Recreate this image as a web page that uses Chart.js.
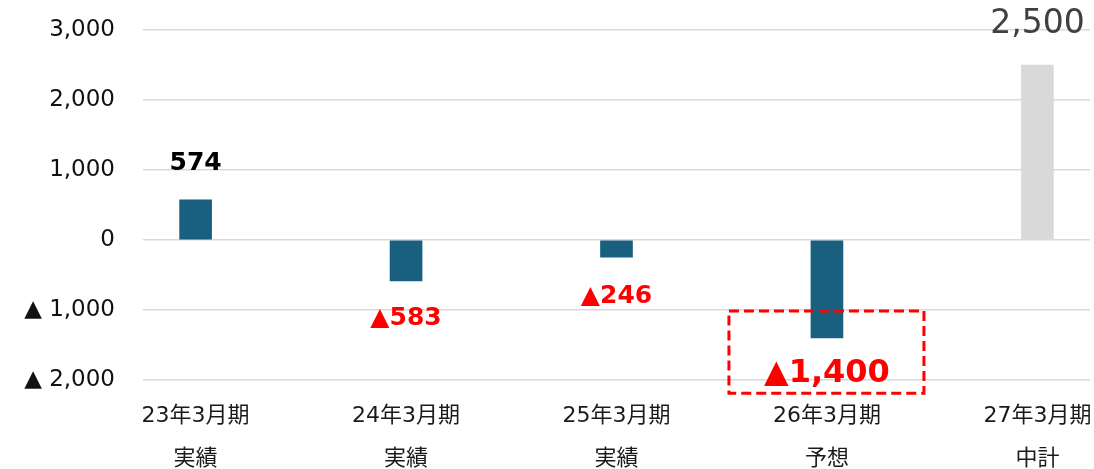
<!DOCTYPE html>
<html>
<head>
<meta charset="utf-8">
<script src="https://cdn.jsdelivr.net/npm/chart.js@4"></script>
<style>
  body { margin: 0; background: #fff; }
  canvas { display: block; }
</style>
</head>
<body>
<canvas id="chart" width="1094" height="469"></canvas>
<script>
const periods = ["23年3月期", "24年3月期", "25年3月期", "26年3月期", "27年3月期"];
const kinds = ["実績", "実績", "実績", "予想", "中計"];
const values = [574, -583, -246, -1400, 2500];
const barColors = ["#185F80", "#185F80", "#185F80", "#185F80", "#D9D9D9"];
const yTicks = [-2000, -1000, 0, 1000, 2000, 3000];

const font = "'DejaVu Sans', 'Noto Sans CJK JP', sans-serif";

function fmt(v) {
  return Math.abs(v).toLocaleString("en-US");
}

// look of the value labels, one per bar
const labelStyles = [
  { weight: "bold", size: 25, color: "#000000", gap: 30 },
  { weight: "bold", size: 25, color: "#FF0000", gap: 44 },
  { weight: "bold", size: 25, color: "#FF0000", gap: 46 },
  { weight: "bold", size: 32, color: "#FF0000", gap: 44 },
  { weight: "normal", size: 33, color: "#404040", gap: 32 },
];

const valueLabels = {
  id: "valueLabels",
  afterDatasetsDraw(chart) {
    const ctx = chart.ctx;
    const meta = chart.getDatasetMeta(0);
    ctx.save();
    ctx.textAlign = "center";
    ctx.textBaseline = "alphabetic";
    meta.data.forEach((bar, i) => {
      const v = values[i];
      const s = labelStyles[i];
      const text = v < 0 ? "▲" + fmt(v) : fmt(v);
      ctx.font = s.weight + " " + s.size + "px " + font;
      ctx.fillStyle = s.color;
      const y = v < 0 ? bar.y + s.gap : bar.y - s.gap;
      ctx.fillText(text, bar.x, y);
    });

    // dashed box round the forecast value
    const bar = meta.data[3];
    const yScale = chart.scales.y;
    const top = yScale.getPixelForValue(-1000) + 1;
    const bottom = yScale.getPixelForValue(-2190);
    ctx.strokeStyle = "#FF0000";
    ctx.lineWidth = 3;
    ctx.setLineDash([10, 5]);
    ctx.strokeRect(bar.x - 98, top, 195, bottom - top);
    ctx.restore();
  },
};

new Chart(document.getElementById("chart"), {
  type: "bar",
  data: {
    datasets: [
      {
        data: values.map((v, i) => ({ x: i, y: v })),
        backgroundColor: barColors,
        barThickness: 32,
      },
    ],
  },
  options: {
    responsive: false,
    animation: false,
    layout: { padding: { top: 30, right: 4, left: 0, bottom: 0 } },
    plugins: {
      legend: { display: false },
      tooltip: { enabled: false },
    },
    scales: {
      x: {
        type: "linear",
        min: -0.25,
        max: 4.25,
        offset: false,
        grid: { display: false, offset: false },
        border: { display: false },
        afterFit: (scale) => {
          scale.height = 89;
          scale.paddingLeft = 0;
          scale.paddingRight = 0;
        },
        afterBuildTicks: (scale) => {
          scale.ticks = periods.map((p, i) => ({ value: i }));
        },
        ticks: {
          padding: 7,
          maxRotation: 0,
          autoSkip: false,
          color: "#1a1a1a",
          font: { family: font, size: 22, lineHeight: "43px" },
          callback: (v) => [periods[v], kinds[v]],
        },
      },
      y: {
        min: -2000,
        max: 3000,
        afterFit: (scale) => {
          scale.width = 143;
          scale.paddingTop = 0;
          scale.paddingBottom = 0;
        },
        afterBuildTicks: (scale) => {
          scale.ticks = yTicks.map((v) => ({ value: v }));
        },
        grid: { color: "#D9D9D9", lineWidth: 1.5, drawTicks: false },
        border: { display: false },
        ticks: {
          padding: 28,
          color: "#111111",
          font: { family: font, size: 23 },
          callback: (v) => (v < 0 ? "▲ " + fmt(v) : fmt(v)),
        },
      },
    },
  },
  plugins: [valueLabels],
});
</script>
</body>
</html>
